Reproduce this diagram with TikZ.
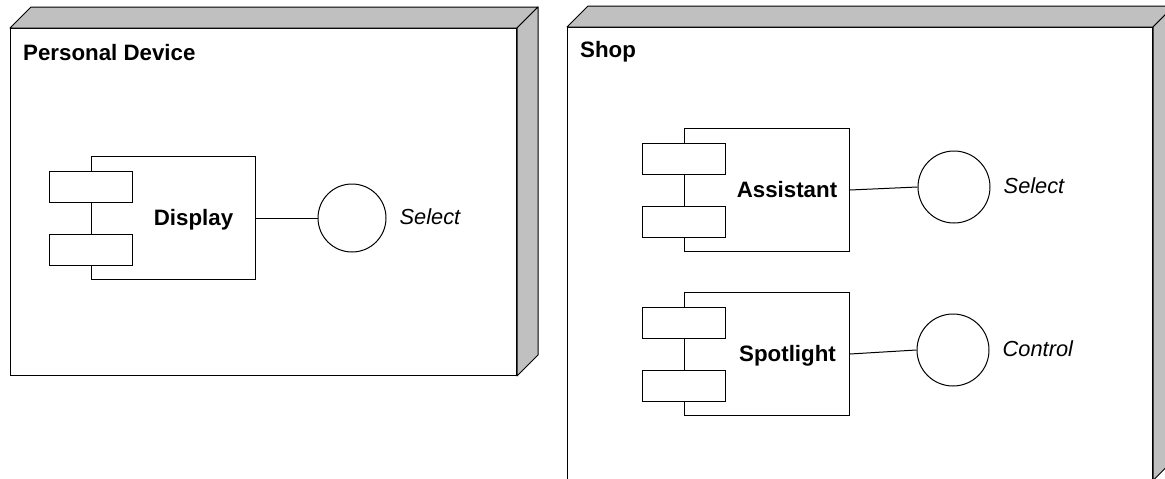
\documentclass[tikz,border=0pt]{standalone}
\usepackage{fontspec}
\setmainfont{Liberation Sans}
\usetikzlibrary{calc}
\definecolor{facegray}{HTML}{C0C0C0}
\tikzset{
  nodefront/.style={draw=black, fill=white, line width=1pt, anchor=north west, inner sep=0pt},
  nodeside/.style={draw=black, fill=facegray, line width=1pt, line join=round},
  compbox/.style={draw=black, fill=white, line width=1pt, anchor=north west, inner sep=0pt,
                  minimum width=165pt, minimum height=123pt},
  portbox/.style={draw=black, fill=white, line width=1pt, inner sep=0pt,
                  minimum width=83pt, minimum height=31pt},
  iface/.style={circle, draw=black, fill=white, line width=1pt, inner sep=0pt, minimum size=72pt},
  nodetitle/.style={font=\fontsize{22.3}{26}\selectfont\bfseries, anchor=base west, inner sep=0pt},
  compname/.style={font=\fontsize{22.3}{26}\selectfont\bfseries, anchor=base, inner sep=0pt},
  ifname/.style={font=\fontsize{21.8}{26}\selectfont\itshape, anchor=base west, inner sep=0pt},
  wire/.style={draw=black, line width=1pt},
}
\begin{document}
\begin{tikzpicture}[x=1pt,y=-1pt]
\useasboundingbox (0,0) rectangle (1165,479);
\clip (0,0) rectangle (1165,479);

% ---------- Personal Device (3D node) ----------
\node[nodefront, minimum width=506pt, minimum height=347pt] (pd) at (10,28) {};
\draw[nodeside] (pd.north west) -- ++(21,-21) -- ($(pd.north east)+(21,-21)$) -- (pd.north east) -- cycle;
\draw[nodeside] (pd.north east) -- ++(21,-21) -- ($(pd.south east)+(21,-21)$) -- (pd.south east) -- cycle;
\node[nodetitle] (pdname) at (23,60) {Personal Device};

% Display component
\node[compbox, minimum width=164pt] (disp) at (91,156) {};
\node[portbox] (dp1) at ($(disp.north west)+(0,30.5)$) {};
\node[portbox] (dp2) at ($(disp.south west)+(0,-30.5)$) {};
\node[compname] (dispname) at (193.5,225) {Display};
\node[iface, minimum size=68pt] (dsel) at (352,218) {};
\draw[wire] (disp.east) -- (dsel.west);
\node[ifname] (dselname) at ($(dsel.east)+(13,6)$) {Select};

% ---------- Shop (3D node) ----------
\node[nodefront, minimum width=585pt, minimum height=452.5pt] (shop) at (567,27) {};
\draw[nodeside] (shop.north west) -- ++(21,-21) -- ($(shop.north east)+(21,-21)$) -- (shop.north east) -- cycle;
\draw[nodeside] (shop.north east) -- ++(21,-21) -- ($(shop.south east)+(21,-21)$) -- (shop.south east) -- cycle;
\node[nodetitle] (shopname) at (580,57) {Shop};

% Assistant component
\node[compbox] (asst) at (684,128) {};
\node[portbox] (ap1) at ($(asst.north west)+(0,30.5)$) {};
\node[portbox] (ap2) at ($(asst.south west)+(0,-30.5)$) {};
\node[compname] (asstname) at (787,197) {Assistant};
\node[iface] (asel) at (954,187) {};
\draw[wire] (asst.east) -- (asel.west);
\node[ifname] (aselname) at ($(asel.east)+(13,6)$) {Select};

% Spotlight component
\node[compbox] (spot) at (684,292) {};
\node[portbox] (sp1) at ($(spot.north west)+(0,30.5)$) {};
\node[portbox] (sp2) at ($(spot.south west)+(0,-30.5)$) {};
\node[compname] (spotname) at (787.5,361) {Spotlight};
\node[iface] (sctl) at (953,350) {};
\draw[wire] (spot.east) -- (sctl.west);
\node[ifname] (sctlname) at ($(sctl.east)+(13,6)$) {Control};
\end{tikzpicture}
\end{document}
